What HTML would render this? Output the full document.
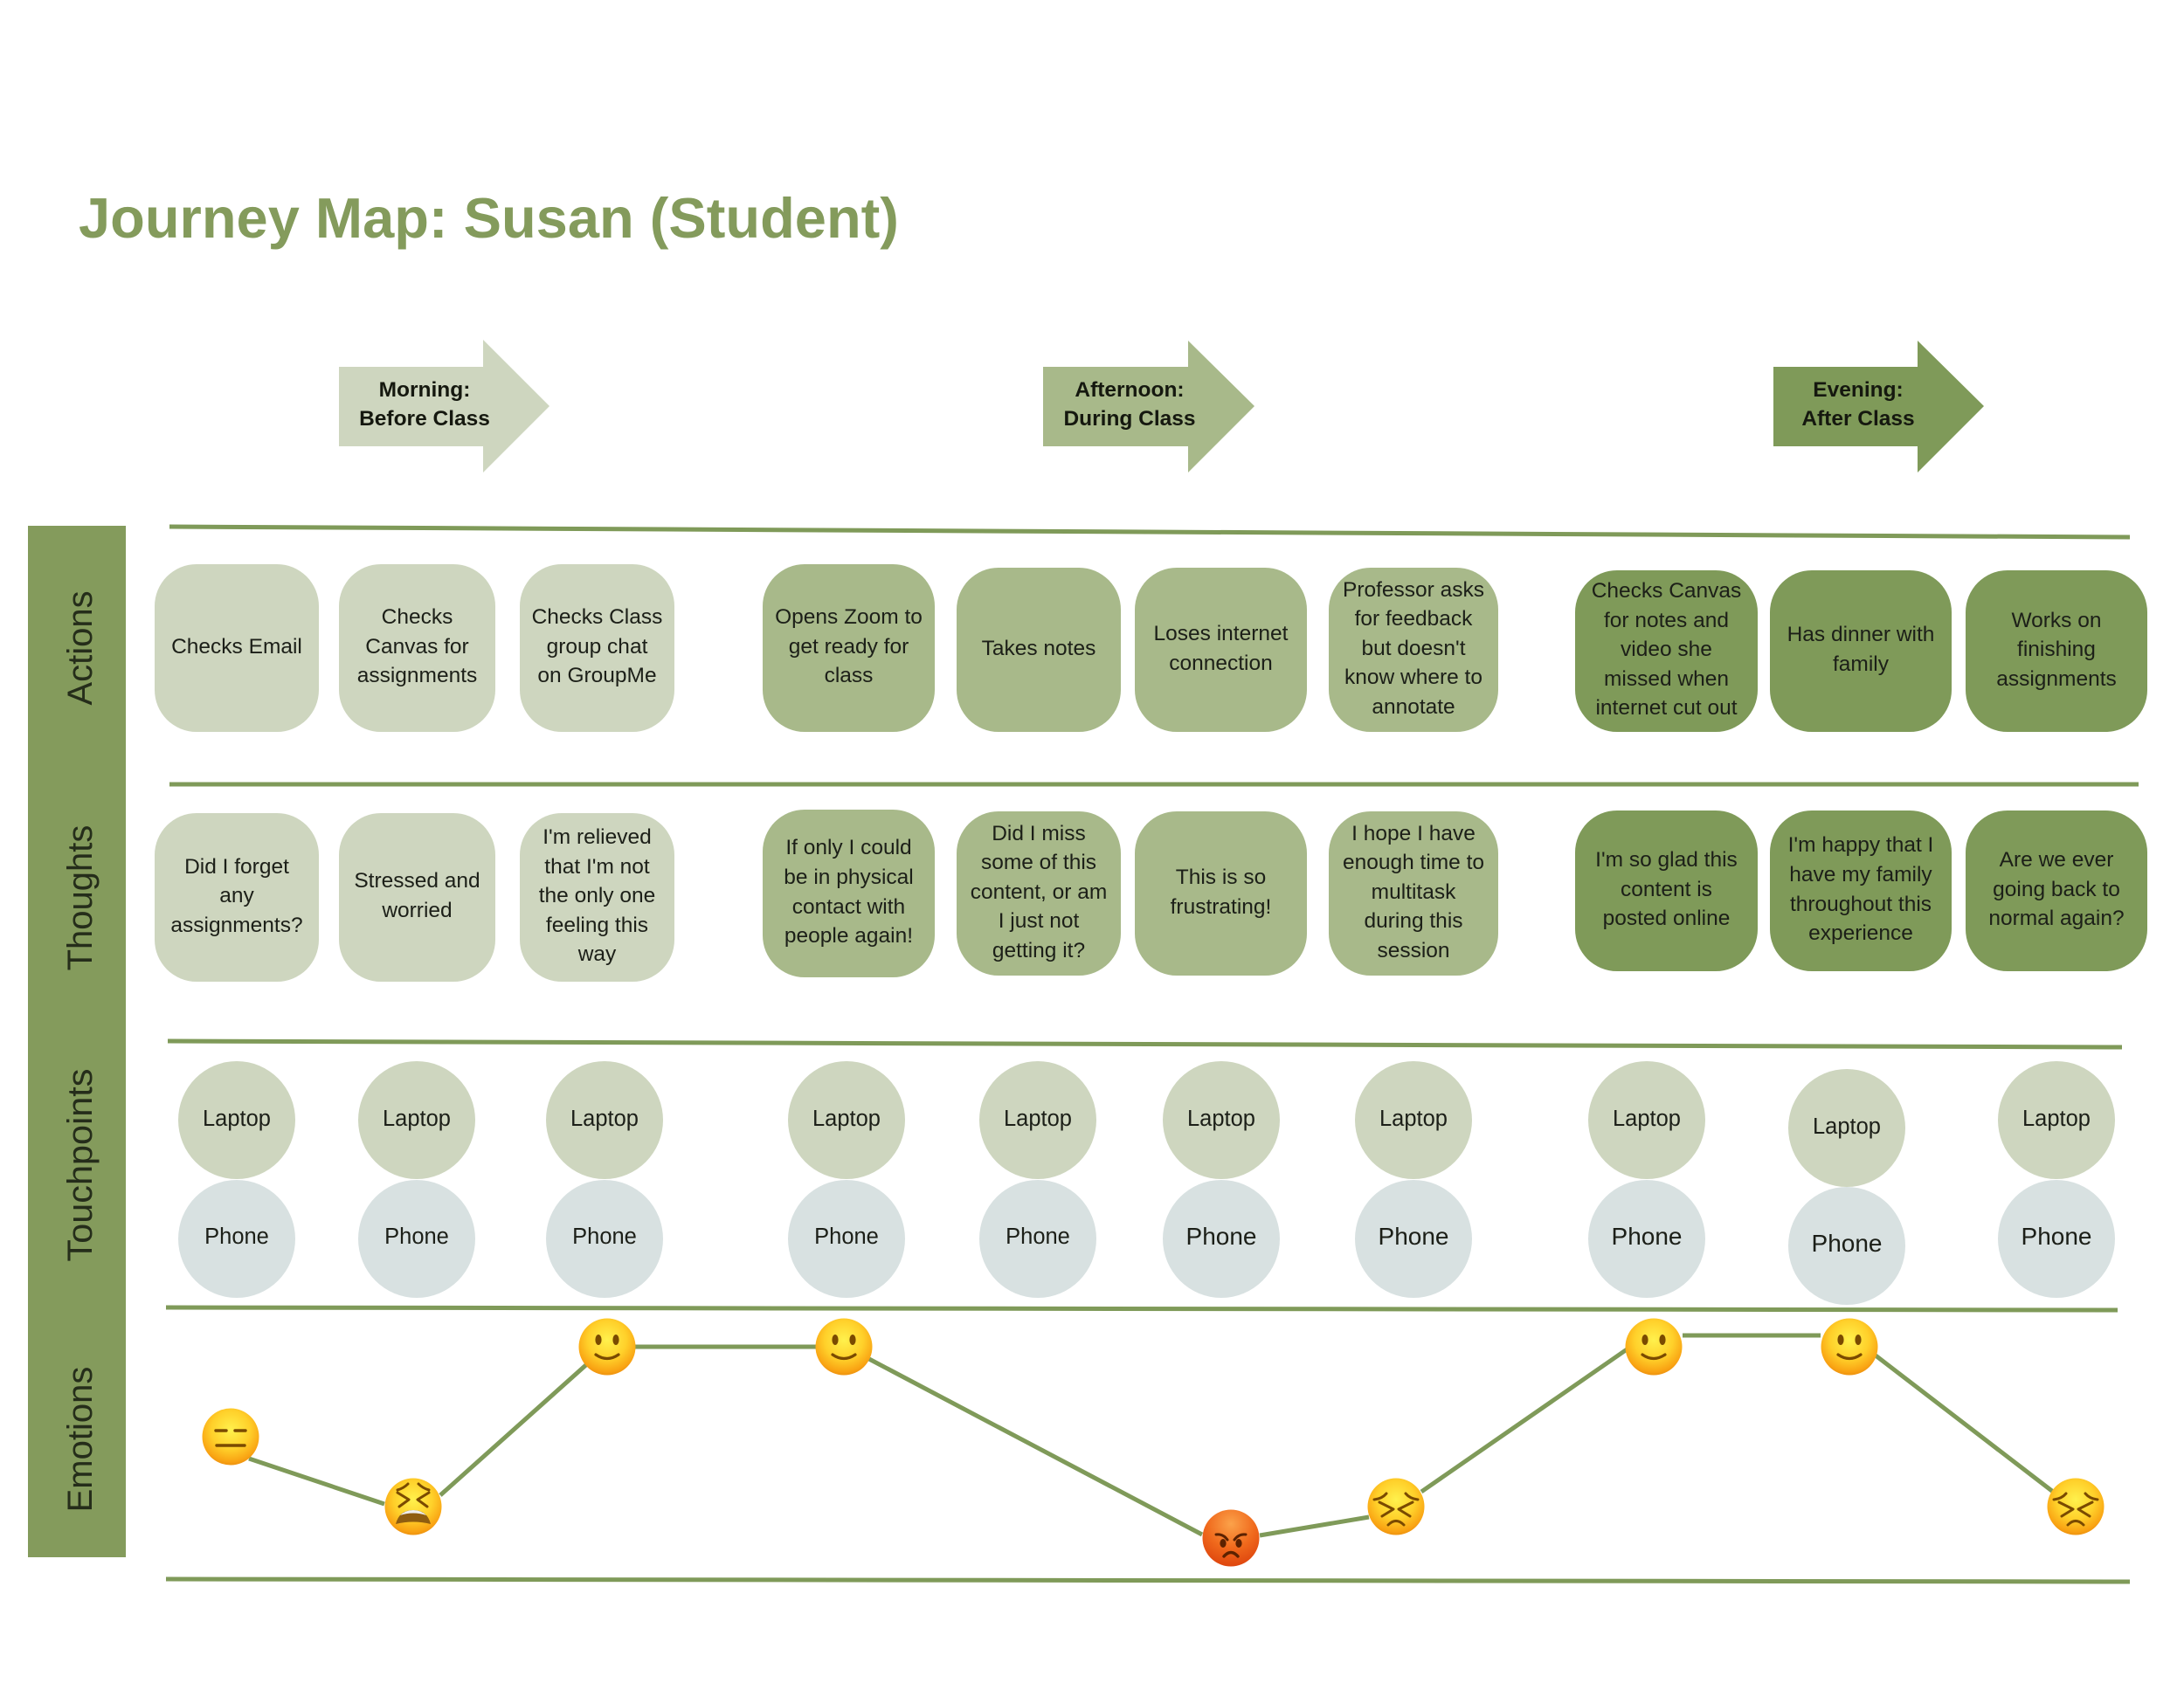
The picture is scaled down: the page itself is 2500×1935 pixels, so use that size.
<!DOCTYPE html>
<html lang="en">
<head>
<meta charset="utf-8">
<title>Journey Map: Susan (Student)</title>
<style>
html,body{margin:0;padding:0;background:#fff;}
#p{position:relative;width:2500px;height:1935px;overflow:hidden;background:#fff;font-family:"Liberation Sans",sans-serif;color:#1c1f18;}
svg{position:absolute;left:0;top:0;}
.b{position:absolute;display:flex;align-items:center;justify-content:center;text-align:center;border-radius:48px;font-size:24.5px;line-height:33.6px;white-space:nowrap;box-sizing:border-box;padding-bottom:3px;}
.l{background:#ced6bf;}.m{background:#a8b98a;}.d{background:#7f9a59;}
.c{position:absolute;width:134px;height:135px;border-radius:50%;display:flex;align-items:center;justify-content:center;font-size:25.5px;line-height:30px;}
.c span{position:relative;top:-2px;}
.h span{top:-3px;}
.t{background:#ced6bf;}.h{background:#d8e1e1;}
.big{font-size:28px;}
.ar{position:absolute;text-align:center;font-weight:bold;font-size:24.5px;line-height:33px;white-space:nowrap;color:#15180f;width:220px;top:430px;}
#title{position:absolute;left:90px;top:212px;font-size:65px;line-height:75px;font-weight:bold;color:#849b5c;white-space:nowrap;}
</style>
</head>
<body>
<div id="p">
<svg width="2500" height="1935" viewBox="0 0 2500 1935">
<defs>
<radialGradient id="y" cx="50%" cy="38%" r="62%"><stop offset="0" stop-color="#fff14d"/><stop offset=".55" stop-color="#ffd02a"/><stop offset=".9" stop-color="#f9a313"/><stop offset="1" stop-color="#ee930f"/></radialGradient>
<radialGradient id="o" cx="50%" cy="25%" r="78%"><stop offset="0" stop-color="#fba24a"/><stop offset=".55" stop-color="#f0691c"/><stop offset="1" stop-color="#dd430d"/></radialGradient>
</defs>
<!-- sidebar -->
<rect x="32" y="602" width="112" height="1181" fill="#849b5c"/>
<g font-family="Liberation Sans, sans-serif" font-size="40" fill="#252d1a" text-anchor="middle">
<text transform="translate(105 742) rotate(-90)">Actions</text>
<text transform="translate(105 1028) rotate(-90)">Thoughts</text>
<text transform="translate(105 1334) rotate(-90)" textLength="221" lengthAdjust="spacingAndGlyphs">Touchpoints</text>
<text transform="translate(105 1648) rotate(-90)">Emotions</text>
</g>
<!-- arrows -->
<polygon points="388,420 553,420 553,389 629,465 553,541 553,511 388,511" fill="#ced6bf"/>
<polygon points="1197,420 1360,420 1360,390 1436,465 1360,541 1360,511 1197,511" fill="#a8b98a" transform="translate(0 0)"/>
<rect x="1194" y="420" width="4" height="91" fill="#a8b98a"/>
<polygon points="2030,420 2195,420 2195,390 2271,465 2195,541 2195,511 2030,511" fill="#7f9a59"/>
<!-- dividers -->
<g stroke="#7f9a59" stroke-width="5" fill="none">
<line x1="194" y1="603" x2="2438" y2="615"/>
<line x1="194" y1="898" x2="2448" y2="898"/>
<line x1="192" y1="1192" x2="2429" y2="1199"/>
<line x1="190" y1="1497" x2="2424" y2="1500"/>
<line x1="190" y1="1808" x2="2438" y2="1811"/>
</g>
<!-- emotion connectors -->
<g stroke="#7f9a59" stroke-width="5" fill="none">
<line x1="285" y1="1670" x2="440" y2="1722"/>
<line x1="504" y1="1712" x2="674" y2="1560"/>
<line x1="725" y1="1547" x2="935" y2="1547" transform="translate(0 -5)"/>
<line x1="993" y1="1555" x2="1376" y2="1757"/>
<line x1="1442" y1="1758" x2="1567" y2="1737"/>
<line x1="1627" y1="1708" x2="1868" y2="1541"/>
<line x1="1926" y1="1535" x2="2084" y2="1535" transform="translate(0 -6)"/>
<line x1="2147" y1="1552" x2="2354" y2="1711"/>
</g>
<!-- emoji: neutral/expressionless -->
<g transform="translate(264 1645)"><circle r="32.5" fill="url(#y)"/><g stroke="#7a4a00" stroke-width="3.4" stroke-linecap="round"><line x1="-17" y1="-7" x2="-5" y2="-7"/><line x1="5" y1="-7" x2="17" y2="-7"/><line x1="-16" y1="10" x2="16" y2="10"/></g></g>
<!-- emoji: tired -->
<g transform="translate(473 1725)"><circle r="32.5" fill="url(#y)"/><g stroke="#7a4a00" stroke-width="3" fill="none" stroke-linecap="round" stroke-linejoin="round"><path d="M-18,-19 Q-11,-21 -6,-26"/><path d="M18,-19 Q11,-21 6,-26"/><path d="M-18,-16 L-5,-8 L-16,0"/><path d="M18,-16 L5,-8 L16,0"/></g><path d="M-20,20 Q-16,4 0,4 Q16,4 20,20 Q0,15 -20,20Z" fill="#8f5d10"/><path d="M-15,10 Q-9,4 0,4 Q9,4 15,10 Q0,5 -15,10Z" fill="#eee"/></g>
<!-- emoji: smile 1 -->
<g transform="translate(695 1542)"><circle r="32.5" fill="url(#y)"/><ellipse cx="-10" cy="-8" rx="3.6" ry="6" fill="#7a4a00"/><ellipse cx="10" cy="-8" rx="3.6" ry="6" fill="#7a4a00"/><path d="M-13,9 Q0,18 13,9" stroke="#7a4a00" stroke-width="3.2" fill="none" stroke-linecap="round"/></g>
<!-- emoji: smile 2 -->
<g transform="translate(966 1542)"><circle r="32.5" fill="url(#y)"/><ellipse cx="-10" cy="-8" rx="3.6" ry="6" fill="#7a4a00"/><ellipse cx="10" cy="-8" rx="3.6" ry="6" fill="#7a4a00"/><path d="M-13,9 Q0,18 13,9" stroke="#7a4a00" stroke-width="3.2" fill="none" stroke-linecap="round"/></g>
<!-- emoji: angry -->
<g transform="translate(1409 1761)"><circle r="32.5" fill="url(#o)"/><g stroke="#5c2200" stroke-width="3" fill="none" stroke-linecap="round"><path d="M-17,-4 Q-9,-5 -4,2"/><path d="M17,-4 Q9,-5 4,2"/></g><ellipse cx="-9" cy="6" rx="3.6" ry="5" fill="#5c2200"/><ellipse cx="9" cy="6" rx="3.6" ry="5" fill="#5c2200"/><path d="M-8,21 Q0,12 8,21" stroke="#5c2200" stroke-width="3.4" fill="none" stroke-linecap="round"/></g>
<!-- emoji: persevere 1 -->
<g transform="translate(1598 1725)"><circle r="32.5" fill="url(#y)"/><g stroke="#7a4a00" stroke-width="3" fill="none" stroke-linecap="round" stroke-linejoin="round"><path d="M-25,-8 Q-16,-9 -11,-15"/><path d="M25,-8 Q16,-9 11,-15"/><path d="M-19,-5 L-3,3 L-16,11"/><path d="M19,-5 L3,3 L16,11"/><path d="M-9,21 Q0,12 9,21"/></g></g>
<!-- emoji: smile 3 -->
<g transform="translate(1893 1542)"><circle r="32.5" fill="url(#y)"/><ellipse cx="-10" cy="-8" rx="3.6" ry="6" fill="#7a4a00"/><ellipse cx="10" cy="-8" rx="3.6" ry="6" fill="#7a4a00"/><path d="M-13,9 Q0,18 13,9" stroke="#7a4a00" stroke-width="3.2" fill="none" stroke-linecap="round"/></g>
<!-- emoji: smile 4 -->
<g transform="translate(2117 1542)"><circle r="32.5" fill="url(#y)"/><ellipse cx="-10" cy="-8" rx="3.6" ry="6" fill="#7a4a00"/><ellipse cx="10" cy="-8" rx="3.6" ry="6" fill="#7a4a00"/><path d="M-13,9 Q0,18 13,9" stroke="#7a4a00" stroke-width="3.2" fill="none" stroke-linecap="round"/></g>
<!-- emoji: persevere 2 -->
<g transform="translate(2376 1725)"><circle r="32.5" fill="url(#y)"/><g stroke="#7a4a00" stroke-width="3" fill="none" stroke-linecap="round" stroke-linejoin="round"><path d="M-25,-8 Q-16,-9 -11,-15"/><path d="M25,-8 Q16,-9 11,-15"/><path d="M-19,-5 L-3,3 L-16,11"/><path d="M19,-5 L3,3 L16,11"/><path d="M-9,21 Q0,12 9,21"/></g></g>
</svg>

<div id="title">Journey Map: Susan (Student)</div>

<div class="ar" style="left:376px">Morning:<br>Before Class</div>
<div class="ar" style="left:1187px;margin-left:-4px">Afternoon:<br>During Class</div>
<div class="ar" style="left:2017px">Evening:<br>After Class</div>

<!-- Actions -->
<div class="b l" style="left:177px;top:646px;width:188px;height:192px">Checks Email</div>
<div class="b l" style="left:388px;top:646px;width:179px;height:192px">Checks<br>Canvas for<br>assignments</div>
<div class="b l" style="left:595px;top:646px;width:177px;height:192px">Checks Class<br>group chat<br>on GroupMe</div>
<div class="b m" style="left:873px;top:646px;width:197px;height:192px">Opens Zoom to<br>get ready for<br>class</div>
<div class="b m" style="left:1095px;top:650px;width:188px;height:188px">Takes notes</div>
<div class="b m" style="left:1299px;top:650px;width:197px;height:188px">Loses internet<br>connection</div>
<div class="b m" style="left:1521px;top:650px;width:194px;height:188px">Professor asks<br>for feedback<br>but doesn't<br>know where to<br>annotate</div>
<div class="b d" style="left:1803px;top:653px;width:209px;height:185px">Checks Canvas<br>for notes and<br>video she<br>missed when<br>internet cut out</div>
<div class="b d" style="left:2026px;top:653px;width:208px;height:185px">Has dinner with<br>family</div>
<div class="b d" style="left:2250px;top:653px;width:208px;height:185px">Works on<br>finishing<br>assignments</div>

<!-- Thoughts -->
<div class="b l" style="left:177px;top:931px;width:188px;height:193px">Did I forget<br>any<br>assignments?</div>
<div class="b l" style="left:388px;top:931px;width:179px;height:193px">Stressed and<br>worried</div>
<div class="b l" style="left:595px;top:931px;width:177px;height:193px">I'm relieved<br>that I'm not<br>the only one<br>feeling this<br>way</div>
<div class="b m" style="left:873px;top:927px;width:197px;height:192px">If only I could<br>be in physical<br>contact with<br>people again!</div>
<div class="b m" style="left:1095px;top:929px;width:188px;height:188px">Did I miss<br>some of this<br>content, or am<br>I just not<br>getting it?</div>
<div class="b m" style="left:1299px;top:929px;width:197px;height:188px">This is so<br>frustrating!</div>
<div class="b m" style="left:1521px;top:929px;width:194px;height:188px">I hope I have<br>enough time to<br>multitask<br>during this<br>session</div>
<div class="b d" style="left:1803px;top:928px;width:209px;height:184px">I'm so glad this<br>content is<br>posted online</div>
<div class="b d" style="left:2026px;top:928px;width:208px;height:184px">I'm happy that I<br>have my family<br>throughout this<br>experience</div>
<div class="b d" style="left:2250px;top:928px;width:208px;height:184px">Are we ever<br>going back to<br>normal again?</div>

<!-- Touchpoints -->
<div class="c t" style="left:204px;top:1215px"><span>Laptop</span></div><div class="c h" style="left:204px;top:1351px"><span>Phone</span></div>
<div class="c t" style="left:410px;top:1215px"><span>Laptop</span></div><div class="c h" style="left:410px;top:1351px"><span>Phone</span></div>
<div class="c t" style="left:625px;top:1215px"><span>Laptop</span></div><div class="c h" style="left:625px;top:1351px"><span>Phone</span></div>
<div class="c t" style="left:902px;top:1215px"><span>Laptop</span></div><div class="c h" style="left:902px;top:1351px"><span>Phone</span></div>
<div class="c t" style="left:1121px;top:1215px"><span>Laptop</span></div><div class="c h" style="left:1121px;top:1351px"><span>Phone</span></div>
<div class="c t" style="left:1331px;top:1215px"><span>Laptop</span></div><div class="c h big" style="left:1331px;top:1351px"><span>Phone</span></div>
<div class="c t" style="left:1551px;top:1215px"><span>Laptop</span></div><div class="c h big" style="left:1551px;top:1351px"><span>Phone</span></div>
<div class="c t" style="left:1818px;top:1215px"><span>Laptop</span></div><div class="c h big" style="left:1818px;top:1351px"><span>Phone</span></div>
<div class="c t" style="left:2047px;top:1224px"><span>Laptop</span></div><div class="c h big" style="left:2047px;top:1359px"><span>Phone</span></div>
<div class="c t" style="left:2287px;top:1215px"><span>Laptop</span></div><div class="c h big" style="left:2287px;top:1351px"><span>Phone</span></div>
</div>
</body>
</html>
